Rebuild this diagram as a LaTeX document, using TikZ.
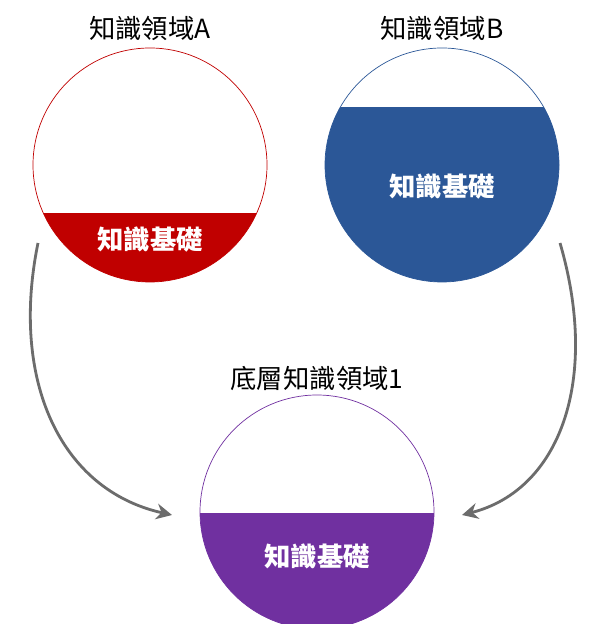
\documentclass[tikz,border=0pt]{standalone}
\usepackage{fontspec}
\setmainfont{Noto Sans CJK TC}
\usetikzlibrary{arrows.meta}
\definecolor{kred}{HTML}{C00000}
\definecolor{kblue}{HTML}{2B5797}
\definecolor{kpurple}{HTML}{7030A0}
\begin{document}
\begin{tikzpicture}[x=0.02cm,y=-0.02cm,
                    title/.style={font=\fontsize{15}{18}\selectfont},
                    base/.style={text=white,font=\fontsize{15}{18}\selectfont\bfseries},
                    flow/.style={draw=gray!85!black,line width=1.6pt,-{Stealth[length=9pt,width=9pt]}}]
      \useasboundingbox (0,0) rectangle (600,624);

      % domain A
      \begin{scope}
          \clip (150,165) circle (117);
          \fill[kred] (0,213) rectangle (300,300);
      \end{scope}
      \node[draw=kred,circle,minimum size=234*0.02cm] (A) at (150,165) {};
      \node[title] (titleA) at (150,28) {知識領域A};
      \node[base] (baseA) at (150,240) {知識基礎};

      % domain B
      \begin{scope}
          \clip (442,165) circle (117);
          \fill[kblue] (300,107) rectangle (600,300);
      \end{scope}
      \node[draw=kblue,circle,minimum size=234*0.02cm] (B) at (442,165) {};
      \node[title] (titleB) at (442,28) {知識領域B};
      \node[base] (baseB) at (442,187) {知識基礎};

      % underlying domain
      \begin{scope}
          \clip (317,512) circle (117);
          \fill[kpurple] (150,513) rectangle (500,640);
      \end{scope}
      \node[draw=kpurple,circle,minimum size=234*0.02cm] (C) at (317,512) {};
      \node[title] (titleC) at (317,378) {底層知識領域1};
      \node[base] (baseC) at (317,557) {知識基礎};

      \coordinate (startA) at (38,243);
      \coordinate (endA) at (172,515);
      \coordinate (startB) at (560,243);
      \coordinate (endB) at (462,515);
      \draw[flow] (startA) .. controls (10,380) and (60,490) .. (endA);
      \draw[flow] (startB) .. controls (600,380) and (560,490) .. (endB);
\end{tikzpicture}
\end{document}
